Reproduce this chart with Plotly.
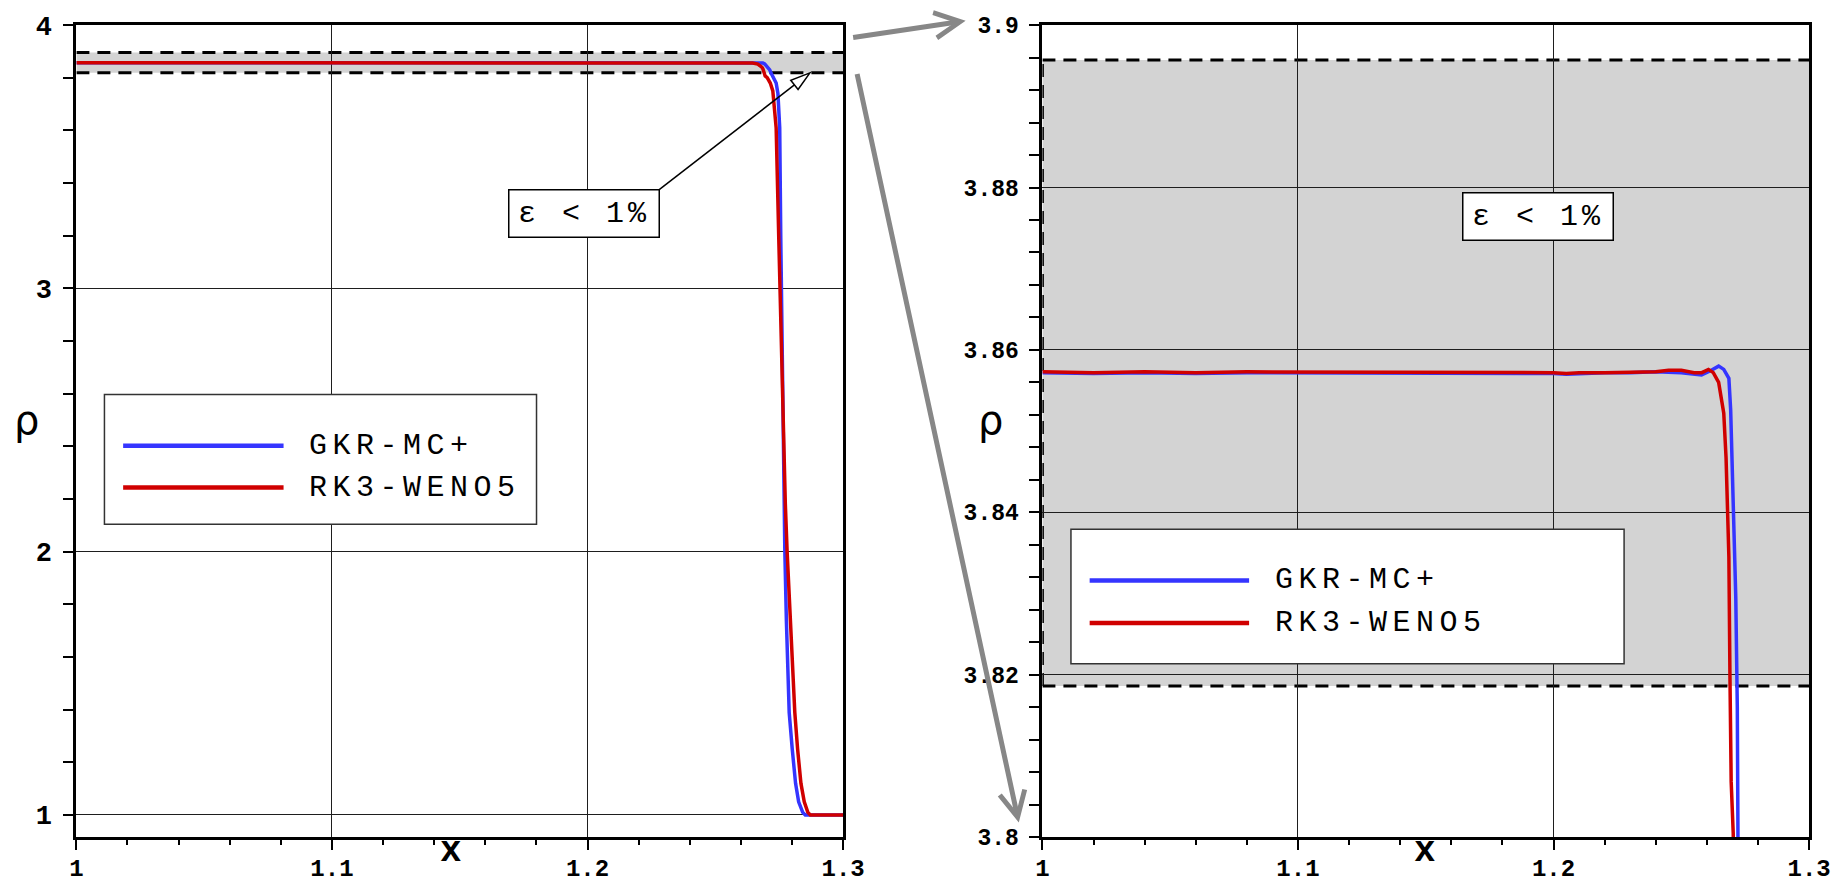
import plotly.graph_objects as go

# ---------------------------------------------------------------- data
# Density profile rho(x) near the shock front for the two schemes
x_gkr = [1.000, 1.020, 1.040, 1.060, 1.080, 1.100, 1.120, 1.140, 1.160, 1.180,
         1.200, 1.205, 1.210, 1.220, 1.230, 1.240, 1.250, 1.2579, 1.2612, 1.2646,
         1.2666, 1.2686, 1.2693, 1.2699, 1.2706, 1.2713, 1.2719, 1.2726, 1.2738,
         1.2745, 1.2752, 1.2756, 1.2759, 1.2766, 1.2772, 1.2778, 1.2789, 1.2801,
         1.2814, 1.2826, 1.2842, 1.2852, 1.3000]
rho_gkr = [3.8572, 3.8571, 3.8572, 3.8571, 3.8572, 3.8572, 3.8571, 3.8572, 3.8572, 3.8571,
           3.8571, 3.8570, 3.8571, 3.8572, 3.8572, 3.8573, 3.8572, 3.8569, 3.8574, 3.8580,
           3.8576, 3.8565, 3.8526, 3.8463, 3.8404, 3.8295, 3.8159, 3.8005, 3.7800,
           3.7400, 3.6100, 3.2000, 2.9200, 2.4100, 2.0000, 1.7400, 1.3900, 1.2500,
           1.1200, 1.0500, 1.0100, 1.0000, 1.0000]

x_weno = [1.000, 1.020, 1.040, 1.060, 1.080, 1.100, 1.120, 1.140, 1.160, 1.180,
          1.200, 1.205, 1.210, 1.220, 1.230, 1.240, 1.245, 1.250, 1.255, 1.258,
          1.2606, 1.2625, 1.2646, 1.2666, 1.2675, 1.2682, 1.2686, 1.2690, 1.2695,
          1.2703, 1.2715, 1.2725, 1.2738, 1.2748, 1.2755, 1.2767, 1.2774, 1.2781,
          1.2793, 1.2802, 1.2811, 1.2822, 1.2835, 1.2848, 1.2862, 1.2872, 1.3000]
rho_weno = [3.8573, 3.8572, 3.8573, 3.8572, 3.8573, 3.8573, 3.8572, 3.8573, 3.8572, 3.8573,
            3.8572, 3.8571, 3.8572, 3.8572, 3.8573, 3.8573, 3.8575, 3.8575, 3.8572, 3.8572,
            3.8576, 3.8572, 3.8560, 3.8522, 3.8467, 3.8404, 3.8345, 3.8204, 3.8068,
            3.8005, 3.7800, 3.7500, 3.6100, 3.2000, 2.9200, 2.4100, 2.1800, 2.0000,
            1.7400, 1.5300, 1.3900, 1.2500, 1.1200, 1.0500, 1.0100, 1.0000, 1.0000]

series_names = ["GKR-MC+", "RK3-WENO5"]

# 1 % tolerance band around the post-shock density
band_lo = 3.8186
band_hi = 3.8957
band_label = "ε < 1%"
pointer_x = 1.287  # where the label's pointer meets the lower band edge

# axis ticks
x_ticks = [1.0, 1.1, 1.2, 1.3]
x_tick_labels = ["1", "1.1", "1.2", "1.3"]
left_y_ticks = [1, 2, 3, 4]
left_y_tick_labels = ["1", "2", "3", "4"]
right_y_ticks = [3.80, 3.82, 3.84, 3.86, 3.88, 3.90]
right_y_tick_labels = ["3.8", "3.82", "3.84", "3.86", "3.88", "3.9"]

# ---------------------------------------------------------------- layout geometry
W, H = 1839, 886
LEFT_X = (70.5, 849.5)   # pixel extent of the left panel
RIGHT_X = (1052, 1831)   # pixel extent of the right panel
PANEL_Y = (12.5, 851)    # shared vertical pixel extent
X_RANGE = [1.0, 1.3]
LEFT_Y_RANGE = [0.916, 4.0]
RIGHT_Y_RANGE = [3.8, 3.9]

BLUE = "#3535ff"
RED = "#d00000"
GREY_FILL = "#d3d3d3"
ARROW_GREY = "#878787"
MONO = "Liberation Mono"


def px(x):
    return x / W


def py(y):
    return 1 - y / H


def left_to_pixel(xv, yv):
    fx = (xv - X_RANGE[0]) / (X_RANGE[1] - X_RANGE[0])
    fy = (LEFT_Y_RANGE[1] - yv) / (LEFT_Y_RANGE[1] - LEFT_Y_RANGE[0])
    return (LEFT_X[0] + fx * (LEFT_X[1] - LEFT_X[0]),
            PANEL_Y[0] + fy * (PANEL_Y[1] - PANEL_Y[0]))


fig = go.Figure()

for xa, ya in (("x", "y"), ("x2", "y2")):
    fig.add_trace(go.Scatter(x=x_gkr, y=rho_gkr, mode="lines", name=series_names[0],
                             line=dict(color=BLUE, width=3.5), xaxis=xa, yaxis=ya,
                             showlegend=False))
    fig.add_trace(go.Scatter(x=x_weno, y=rho_weno, mode="lines", name=series_names[1],
                             line=dict(color=RED, width=3.5), xaxis=xa, yaxis=ya,
                             showlegend=False))

tick_font = dict(family=MONO, size=24, color="black", weight="bold")
axis_common = dict(showline=True, linecolor="black", linewidth=3, mirror=True,
                   ticks="outside", tickcolor="black", tickwidth=2,
                   showgrid=True, gridcolor="#1e1e1e", gridwidth=1,
                   zeroline=False, tickfont=tick_font, tickmode="array",
                   ticklabeloverflow="allow")

x_common = dict(axis_common, range=X_RANGE, tickvals=x_ticks, ticktext=x_tick_labels,
                ticklen=10, ticklabelstandoff=-3,
                minor=dict(tickmode="linear", tick0=1.0, dtick=0.02, ticks="outside",
                           ticklen=5, tickwidth=2, tickcolor="black", showgrid=False))
y_common = dict(axis_common, ticklen=10, ticklabelstandoff=6,
                domain=[py(PANEL_Y[1]), py(PANEL_Y[0])])

fig.update_layout(
    width=W, height=H, autosize=False,
    margin=dict(l=0, r=0, t=0, b=0, pad=0),
    paper_bgcolor="white", plot_bgcolor="white",
    showlegend=False,
    xaxis=dict(x_common, domain=[px(LEFT_X[0]), px(LEFT_X[1])], anchor="y"),
    xaxis2=dict(x_common, domain=[px(RIGHT_X[0]), px(RIGHT_X[1])], anchor="y2"),
    yaxis=dict(y_common, anchor="x",
               range=LEFT_Y_RANGE, tickvals=left_y_ticks, ticktext=left_y_tick_labels,
               tickfont=dict(tick_font, size=27),
               minor=dict(tickmode="linear", tick0=0, dtick=0.2, ticks="outside",
                          ticklen=10, tickwidth=2, tickcolor="black", showgrid=False)),
    yaxis2=dict(y_common, anchor="x2",
                range=RIGHT_Y_RANGE, tickvals=right_y_ticks, ticktext=right_y_tick_labels,
                tickfont=dict(tick_font, size=23),
                minor=dict(tickmode="linear", tick0=3.8, dtick=0.004, ticks="outside",
                           ticklen=10, tickwidth=2, tickcolor="black", showgrid=False)),
)

shapes = []
DASH = "13px,8px"
for xr, yr in (("x", "y"), ("x2", "y2")):
    shapes.append(dict(type="rect", xref=xr, yref=yr, x0=X_RANGE[0], x1=X_RANGE[1],
                       y0=band_lo, y1=band_hi, fillcolor=GREY_FILL,
                       line=dict(width=0), layer="below"))
    for yv in (band_lo, band_hi):
        shapes.append(dict(type="line", xref=xr, yref=yr, x0=X_RANGE[0], x1=X_RANGE[1],
                           y0=yv, y1=yv, line=dict(color="black", width=3, dash=DASH),
                           layer="below"))
shapes.append(dict(type="line", xref="x2", yref="y2", x0=X_RANGE[0], x1=X_RANGE[0],
                   y0=band_lo, y1=band_hi,
                   line=dict(color="black", width=3, dash=DASH), layer="below"))

# legend frames with their line samples
legend_boxes = [
    dict(box=(99, 394, 538, 528), line_x=(118, 281), rows=(447, 490), text_x=305),
    dict(box=(1081, 533, 1643, 672), line_x=(1100, 1262), rows=(586, 630), text_x=1286),
]
annotations = []
for lb in legend_boxes:
    x0, y0, x1, y1 = lb["box"]
    shapes.append(dict(type="rect", xref="paper", yref="paper",
                       x0=px(x0), x1=px(x1), y0=py(y1), y1=py(y0),
                       fillcolor="white", line=dict(color="#333333", width=1.5),
                       layer="above"))
    for row, color, name in zip(lb["rows"], (BLUE, RED), series_names):
        shapes.append(dict(type="line", xref="paper", yref="paper",
                           x0=px(lb["line_x"][0]), x1=px(lb["line_x"][1]),
                           y0=py(row), y1=py(row),
                           line=dict(color=color, width=4.5), layer="above"))
        annotations.append(dict(xref="paper", yref="paper", x=px(lb["text_x"]), y=py(row),
                                xanchor="left", yanchor="middle", showarrow=False,
                                text='<span style="letter-spacing:5.5px">%s</span>' % name,
                                font=dict(family=MONO, size=30, color="black")))

# tolerance labels
BOX_W, BOX_H = 147, 44
label_centres = ((586.5, 207), (1556, 210))
for cx, cy in label_centres:
    annotations.append(dict(xref="paper", yref="paper", x=px(cx), y=py(cy),
                            xanchor="center", yanchor="middle", showarrow=False,
                            text='<span style="letter-spacing:4px">%s</span>' % band_label,
                            font=dict(family=MONO, size=30, color="black"),
                            bgcolor="white", bordercolor="black", borderwidth=1.5,
                            borderpad=1, width=BOX_W, height=BOX_H))

# pointer from the left label's corner to the lower band edge, with a hollow head
tail = (label_centres[0][0] + BOX_W / 2 + 2, label_centres[0][1] - BOX_H / 2 - 2)
tip = left_to_pixel(pointer_x, band_lo)
dx, dy = tip[0] - tail[0], tip[1] - tail[1]
norm = (dx * dx + dy * dy) ** 0.5
ux, uy = dx / norm, dy / norm
head_len, head_half = 20.0, 6.0
bx, by = tip[0] - head_len * ux, tip[1] - head_len * uy
c1 = (bx + head_half * uy, by - head_half * ux)
c2 = (bx - head_half * uy, by + head_half * ux)
shapes.append(dict(type="line", xref="paper", yref="paper",
                   x0=px(tail[0]), y0=py(tail[1]), x1=px(bx), y1=py(by),
                   line=dict(color="black", width=1.5), layer="above"))
shapes.append(dict(type="path", xref="paper", yref="paper",
                   path="M %f,%f L %f,%f L %f,%f Z" % (px(tip[0]), py(tip[1]),
                                                       px(c1[0]), py(c1[1]),
                                                       px(c2[0]), py(c2[1])),
                   fillcolor="white", line=dict(color="black", width=1.5), layer="above"))

# zoom arrows linking the panels
for (tx, ty), (sx, sy) in (((974, 8), (860, 25)), ((1028, 836), (866, 86))):
    annotations.append(dict(xref="paper", yref="paper", x=px(tx), y=py(ty),
                            ax=sx - tx, ay=sy - ty, text="", showarrow=True,
                            arrowhead=5, arrowsize=1.0, arrowwidth=5,
                            arrowcolor=ARROW_GREY))

# axis titles
for cx in (20, 999):
    annotations.append(dict(xref="paper", yref="paper", x=px(cx), y=py(420),
                            xanchor="center", yanchor="middle", showarrow=False,
                            text="ρ", font=dict(family="DejaVu Sans", size=40, color="black")))
for cx in (451, 1441):
    annotations.append(dict(xref="paper", yref="paper", x=px(cx), y=py(866),
                            xanchor="center", yanchor="middle", showarrow=False,
                            text="x", font=dict(family=MONO, size=36, color="black",
                                                weight="bold")))

fig.update_layout(shapes=shapes, annotations=annotations)
fig.write_html("out.html")
